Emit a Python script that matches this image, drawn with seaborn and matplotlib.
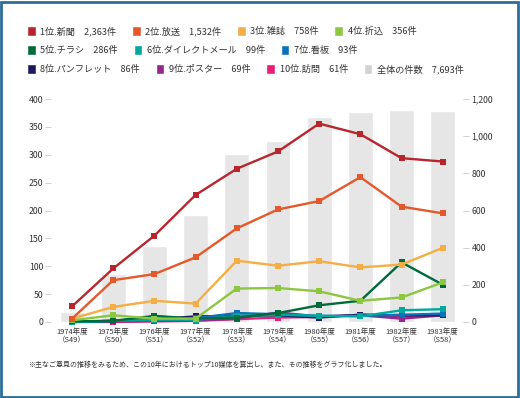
import matplotlib
matplotlib.use('Agg')
import matplotlib.pyplot as plt
import seaborn as sns
import pandas as pd
from matplotlib.patches import Patch, Rectangle
from matplotlib.ticker import FuncFormatter

# 年度ラベル
years = ['1974年度\n（S49）', '1975年度\n（S50）', '1976年度\n（S51）', '1977年度\n（S52）',
         '1978年度\n（S53）', '1979年度\n（S54）', '1980年度\n（S55）', '1981年度\n（S56）',
         '1982年度\n（S57）', '1983年度\n（S58）']

# 全体の件数（右軸）
total_counts = [55, 260, 410, 575, 905, 975, 1105, 1130, 1140, 1138]

# 媒体別の件数（左軸）
media = ['1位.新聞', '2位.放送', '3位.雑誌', '4位.折込', '5位.チラシ',
         '6位.ダイレクトメール', '7位.看板', '8位.パンフレット', '9位.ポスター', '10位.訪問']
shinbun = [28, 96, 155, 228, 275, 306, 356, 337, 294, 288]
housou = [6, 75, 86, 116, 168, 202, 217, 260, 207, 195]
zasshi = [6, 27, 38, 33, 110, 101, 109, 98, 103, 133]
orikomi = [3, 12, 6, 6, 60, 61, 55, 38, 44, 71]
chirashi = [1, 2, 11, 6, 8, 16, 30, 38, 107, 67]
dm = [0, 2, 4, 4, 11, 13, 11, 10, 21, 23]
kanban = [0, 2, 4, 7, 16, 14, 11, 11, 13, 15]
pamphlet = [1, 2, 5, 10, 11, 12, 8, 13, 12, 12]
poster = [0, 1, 2, 3, 6, 17, 10, 12, 6, 12]
houmon = [0, 0, 1, 2, 5, 8, 9, 13, 11, 12]
series = [shinbun, housou, zasshi, orikomi, chirashi, dm, kanban, pamphlet, poster, houmon]

colors = ['#b9252d', '#e5582a', '#f4ae44', '#8dc63f', '#006b3a',
          '#00a99d', '#0a72ba', '#1c1862', '#92278f', '#e61f78']
palette = dict(zip(media, colors))

rows = []
for name, vals in zip(media, series):
    for i, v in enumerate(vals):
        rows.append({'pos': i, 'count': v, 'media': name})
df = pd.DataFrame(rows)

sns.set_style('white')
plt.rcParams['font.family'] = ['Noto Sans CJK JP', 'DejaVu Sans']
text_color = '#333333'

fig = plt.figure(figsize=(5.2, 3.98), dpi=100)
ax_bar = fig.add_axes([0.099, 0.191, 0.792, 0.560])
sns.barplot(x=years, y=total_counts, color='#e6e6e6', saturation=1, width=0.6, ax=ax_bar)
ax_bar.set_ylim(0, 1200)

ax_line = ax_bar.twinx()
sns.lineplot(data=df, x='pos', y='count', hue='media', hue_order=media[::-1], palette=palette,
             marker='s', markersize=4.5, markeredgewidth=0, linewidth=1.7, errorbar=None,
             legend=False, ax=ax_line, clip_on=False)
ax_line.set_ylim(0, 400)
ax_line.set_xlim(-0.5, 9.5)

# 左右の軸を入れ替え（棒は右軸、折れ線は左軸）
ax_bar.yaxis.tick_right()
ax_line.yaxis.tick_left()
ax_bar.set_yticks(range(0, 1201, 200))
ax_line.set_yticks(range(0, 401, 50))
ax_bar.yaxis.set_major_formatter(FuncFormatter(lambda v, p: f'{int(v):,}'))

for a in (ax_bar, ax_line):
    for s in a.spines.values():
        s.set_visible(False)
    a.tick_params(axis='y', length=4, width=0.6, color='#c8c8c8', labelcolor=text_color,
                  labelsize=6.3, pad=2)
    a.set_xlabel('')
    a.set_ylabel('')
ax_bar.tick_params(axis='x', length=0, labelsize=5.4, labelcolor=text_color, pad=4)

# 凡例（3行）
labels = [f'{m}\u3000{sum(v):,}件' for m, v in zip(media, series)]
handles = [Patch(facecolor=c) for c in colors]
labels.append(f'全体の件数\u3000{sum(total_counts):,}件')
handles.append(Patch(facecolor='#d2d2d2'))
row_slices = [(0, 4), (4, 7), (7, 11)]
row_y = [31, 50, 69]
for (a, b), y in zip(row_slices, row_y):
    leg = fig.legend(handles[a:b], labels[a:b], loc='center left',
                     bbox_to_anchor=(27 / 520, 1 - y / 398), ncol=b - a, frameon=False,
                     fontsize=6.6, handlelength=0.95, handleheight=1.35, handletextpad=0.5,
                     columnspacing=1.7, borderpad=0, borderaxespad=0)
    for t in leg.get_texts():
        t.set_color(text_color)

fig.text(28 / 520, 1 - 365 / 398,
         '※主なご意見の推移をみるため、この10年におけるトップ10媒体を算出し、また、その推移をグラフ化しました。',
         fontsize=5, va='center', color=text_color)

fig.add_artist(Rectangle((0.002, 0.003), 0.994, 0.993, transform=fig.transFigure,
                         fill=False, edgecolor='#2c6e98', linewidth=2))

fig.savefig('out.png', dpi=100)
